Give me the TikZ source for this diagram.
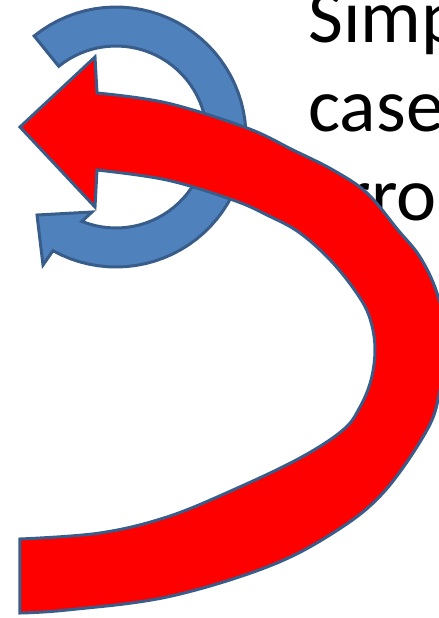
\documentclass[tikz,border=0pt]{standalone}
\usepackage{fontspec}
\setmainfont{Carlito}
\definecolor{accentblue}{HTML}{4F81BD}
\definecolor{edgeblue}{HTML}{385D8A}
\begin{document}
\begin{tikzpicture}[
    x=0.5pt, y=-0.5pt,
    every node/.style={font=\fontsize{38pt}{44pt}\selectfont, inner sep=0pt, anchor=base west},
    bluearrow/.style={draw=edgeblue, line width=1.5pt, fill=accentblue},
    redarrow/.style={draw=edgeblue, line width=1.5pt, fill=red}
]

% Page frame, everything outside is cut off
\useasboundingbox (0,0) rectangle (439,618);
\clip (0,0) rectangle (439,618);

% Title text, running off the right edge
\node (simp) at (308,42)  {Simp};
\node (case) at (308,131) {case};
\node (arro) at (308,220) {arro};

% Blue circular arrow
\def\cx{116}
\def\cy{137}
\draw[bluearrow]
    plot[domain=-129:119, samples=60] ({\cx+130*cos(\x)}, {\cy+130*sin(\x)})
    -- (43,265) -- (37,215) -- (92,212)
    -- plot[domain=112:-129, samples=60] ({\cx+91*cos(\x)}, {\cy+91*sin(\x)})
    -- cycle;

% Red curved arrow: outer edge, tail, inner edge, head
\draw[redarrow]
    plot[smooth, tension=0.6] coordinates {(97,93) (167,103) (247,128) (293,150)
        (333,170) (367,193) (398,230) (420,257) (437,293) (447,340) (440,390)
        (427,430) (383,493) (333,533) (267,567) (167,597) (67,610) (20,613)}
    -- (20,539)
    -- plot[smooth, tension=0.6] coordinates {(20,539) (100,533) (167,517)
        (233,490) (300,458) (343,430) (360,407) (371,380) (375,350) (371,322)
        (360,298) (333,263) (300,233) (267,215) (233,200) (167,180) (97,170)}
    -- (95,207) -- (20,127) -- (95,57)
    -- cycle;

\end{tikzpicture}
\end{document}
